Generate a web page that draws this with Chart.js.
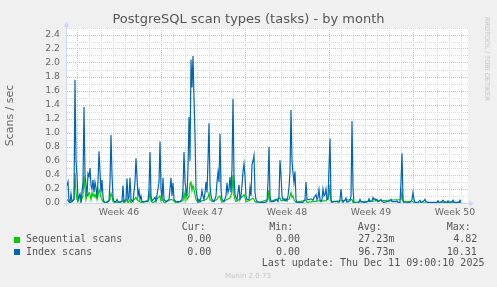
<!DOCTYPE html>
<html>
<head>
<meta charset="utf-8">
<script src="https://cdn.jsdelivr.net/npm/chart.js@4.4.1/dist/chart.umd.min.js"></script>
<style>
html,body{margin:0;padding:0;background:#f0f0f0;width:497px;height:287px;overflow:hidden;}
#wrap{position:relative;width:497px;height:287px;}
#c{position:absolute;left:0;top:0;}
.t{position:absolute;white-space:pre;line-height:12px;}
.mono{font-family:'DejaVu Sans Mono',monospace;font-size:10px;color:#555;}
.sq{position:absolute;width:6px;height:6px;}
</style>
</head>
<body>
<div id="wrap">
<canvas id="c" width="497" height="287"></canvas>
<div class="t" style="left:248.5px;top:11px;line-height:16px;transform:translateX(-50%);font-family:'DejaVu Sans';font-size:13px;color:#555;">PostgreSQL scan types (tasks) - by month</div>
<div class="t" style="left:487px;top:58.5px;line-height:8px;transform:translate(-50%,-50%) rotate(90deg);font-family:'DejaVu Sans';font-size:6.5px;color:#c4c4c4;">RRDTOOL / TOBI OETIKER</div>
<div class="t mono" style="left:181.7px;top:221px;">Cur:</div>
<div class="t mono" style="left:269.3px;top:221px;">Min:</div>
<div class="t mono" style="left:357.7px;top:221px;">Avg:</div>
<div class="t mono" style="left:446.7px;top:221px;">Max:</div>
<div class="sq" style="left:14px;top:237px;background:#00cc00;"></div>
<div class="t mono" style="left:26px;top:233.3px;">Sequential scans</div>
<div class="t mono" style="left:187.3px;top:233.3px;">0.00</div>
<div class="t mono" style="left:276px;top:233.3px;">0.00</div>
<div class="t mono" style="left:358.3px;top:233.3px;">27.23m</div>
<div class="t mono" style="left:453.3px;top:233.3px;">4.82</div>
<div class="sq" style="left:14px;top:249.3px;background:#0066b3;"></div>
<div class="t mono" style="left:26px;top:245.7px;">Index scans</div>
<div class="t mono" style="left:187.3px;top:245.7px;">0.00</div>
<div class="t mono" style="left:276px;top:245.7px;">0.00</div>
<div class="t mono" style="left:358.3px;top:245.7px;">96.73m</div>
<div class="t mono" style="left:446.7px;top:245.7px;">10.31</div>
<div class="t mono" style="left:261.7px;top:257.3px;">Last update: Thu Dec 11 09:00:10 2025</div>
<div class="t" style="left:248px;top:270px;transform:translateX(-50%);font-family:'DejaVu Sans';font-size:7px;color:#c8c8c8;">Munin 2.0.73</div>
</div>
<script>
// time in hours from Mon Nov 10 00:00
const idxHours = [-20,-18,-16,-14,-12,-10,-6,-4,-2,0,2,6,8,12,14,16,18,20,22,24,26,28,30,32,34,36,38,40,42,44,46,48,50,52,54,58,64,66,68,70,72,74,78,80,82,86,90,92,94,98,100,102,104,106,108,112,116,118,120,122,124,126,128,130,142,144,146,148,150,156,158,164,166,168,170,172,174,178,184,186,188,190,192,194,198,206,210,212,214,216,218,220,222,224,226,228,230,232,234,236,238,240,242,244,246,248,250,252,254,256,258,260,262,264,266,268,270,274,278,280,282,284,286,288,290,294,298,300,302,304,306,308,310,312,314,316,318,320,322,324,326,328,330,332,334,336,338,340,344,346,348,350,352,354,356,358,360,366,376,380,382,384,386,388,392,396,398,400,402,404,406,408,410,412,414,416,418,420,422,424,426,428,430,432,434,436,438,440,452,456,458,460,464,468,472,474,476,478,480,482,484,486,488,490,492,494,496,498,500,502,504,506,508,510,514,520,524,526,528,530,532,536,538,540,546,548,550,552,554,562,564,566,568,574,582,584,586,590,592,594,596,598,600,602,606,608,610,614,620,626,628,630,634,638,640,642,646,648,650,652,654,666,670,672,674,676,682,686,688,694,696,698,702,720,722,724,730,732,734,740,742,744,750,752,754,764,766,768];
const idxValues = [0.25,0.3,0.02,0,0.13,0.02,0.05,1.76,0.6,0.4,0.05,0.13,0.02,0.3,1.37,0.4,0.25,0.1,0.42,0.38,0.5,0.25,0.2,0.33,0.15,0.3,0.22,0.08,0.3,0.74,0.45,0.15,0.33,0.08,0.02,0,0.03,0.3,0.97,0.4,0.08,0.02,0.02,0.05,0.02,0.01,0.02,0.25,0.02,0.05,0.35,0.05,0.08,0.36,0.05,0.02,0.3,0.64,0.36,0.1,0.18,0.05,0.1,0.02,0.02,0.2,0.73,0.1,0.03,0.08,0.02,0.3,0.88,0.2,0.05,0.36,0.05,0.02,0.05,0.2,0.36,0.1,0.29,0.05,0.02,0.02,0.05,0.2,0.73,0.3,0.2,0.1,0.5,1.23,0.6,2.05,1.65,2.1,1.5,0.97,0.2,0.1,0.02,0.05,0.02,0.08,0.18,0.1,0.05,0.15,0.3,0.15,0.6,1.14,0.26,0.1,0.05,0.02,0.1,0.3,0.44,0.3,0.99,0.2,0.05,0.02,0.1,0.29,0.15,0.2,0.37,0.15,0.5,1.49,0.4,0.12,0.08,0.05,0.15,0.26,0.05,0.1,0.25,0.45,0.56,0.38,0.1,0.05,0.05,0.22,0.1,0.55,0.6,0.68,0.15,0.05,0.02,0.01,0.01,0.02,0.3,0.8,0.1,0.02,0.02,0.03,0.05,0.04,0.02,0.1,0.61,0.4,0.1,0.05,0.06,0.03,0.06,0.03,0.1,0.23,0.45,1.33,0.6,0.43,0.3,0.45,0.05,0.01,0.01,0.05,0.3,0.05,0.05,0.06,0.04,0.08,0.09,0.12,0.05,0.08,0.19,0.05,0.02,0.05,0.2,0.1,0.12,0.2,0.05,0.05,0.5,0.92,0.05,0.01,0.02,0.02,0.01,0.05,0.2,0.05,0.01,0.04,0.07,0.01,0.03,0.1,1.17,0.2,0,0,0.02,0.05,0.02,0.01,0.02,0.06,0.02,0.03,0.08,0.05,0.06,0.04,0.05,0.02,0.04,0.05,0.02,0.01,0.02,0.03,0.05,0.02,0.02,0.02,0.03,0.01,0.01,0.3,0.71,0.05,0,0.01,0.05,0.15,0.05,0.01,0.01,0.04,0.01,0.03,0.05,0.02,0.01,0.01,0.03,0.01,0.02,0.04,0.02,0.01,0.03,0.01,0.02,0.04,0.01,0.01,0.04,0.02];
const seqHours = [-20,-14,-6,-4,-2,0,2,6,8,12,14,16,18,20,22,24,26,28,30,32,34,36,38,40,42,44,46,48,50,52,56,66,68,70,72,78,92,94,100,102,106,108,118,120,124,130,144,146,148,152,166,168,172,174,188,192,198,212,214,216,218,220,224,226,228,230,232,234,236,238,242,250,258,262,264,266,270,280,282,286,288,290,300,306,310,312,314,316,318,324,332,334,336,338,346,350,352,354,356,360,382,384,386,406,408,424,426,428,430,432,434,438,458,460,484,492,498,504,506,508,528,550,552,648,650,652,672,674,768];
const seqValues = [0.05,0,0.05,0.43,0.15,0.05,0.02,0.1,0.02,0.1,0.38,0.2,0.05,0.12,0.1,0.15,0.12,0.05,0.15,0.1,0.13,0.08,0.12,0.05,0.1,0.19,0.15,0.08,0.05,0.02,0,0.05,0.14,0.1,0.02,0,0.03,0,0.05,0,0.05,0,0.08,0.05,0.03,0,0.05,0.17,0.03,0,0.1,0.03,0.05,0,0.05,0.04,0,0.03,0.15,0.05,0.2,0.05,0.1,0.28,0.3,0.18,0.25,0.2,0.12,0.05,0.01,0.03,0.05,0.08,0.14,0.05,0.02,0.05,0.08,0.1,0.04,0.01,0.05,0.07,0.15,0.4,0.12,0.05,0.02,0.05,0.1,0.12,0.08,0.02,0.04,0.06,0.07,0.05,0.02,0,0.05,0.19,0.02,0.07,0.03,0.05,0.1,0.15,0.08,0.1,0.05,0.01,0.04,0.01,0.03,0.03,0.03,0.1,0.26,0.02,0.03,0.05,0.01,0.05,0.16,0.02,0.02,0,0.01];
const weekLabels = ['Week 46','Week 47','Week 48','Week 49','Week 50'];
const weekMidHours = [84,252,420,588,756];
const yTicks = [0,0.1,0.2,0.3,0.4,0.5,0.6,0.7,0.8,0.9,1.0,1.1,1.2,1.3,1.4,1.5,1.6,1.7,1.8,1.9,2.0,2.1,2.2,2.3,2.4,2.5];
const xTicks = [];
for (let h = 0; h <= 768; h += 12) xTicks.push(h);

const MINOR = '#dadada', MAJOR = '#efb4b4', AXIS = '#CFD6F8';

const muninPlugin = {
  id: 'munin',
  beforeDraw(chart) {
    const {ctx, chartArea: a} = chart;
    ctx.save();
    ctx.fillStyle = '#ffffff';
    ctx.fillRect(a.left, a.top, a.right - a.left, a.bottom - a.top);
    ctx.restore();
  },
  beforeDatasetsDraw(chart) {
    const {ctx, chartArea: a} = chart;
    ctx.save();
    ctx.strokeStyle = AXIS; ctx.fillStyle = AXIS; ctx.lineWidth = 1;
    ctx.beginPath();
    ctx.moveTo(a.left - 3, a.bottom + 0.5); ctx.lineTo(a.right + 2, a.bottom + 0.5);
    ctx.moveTo(a.left - 0.5, a.bottom + 3); ctx.lineTo(a.left - 0.5, a.top - 2);
    ctx.stroke();
    ctx.beginPath();
    ctx.moveTo(a.right + 1, a.bottom - 2.5); ctx.lineTo(a.right + 6, a.bottom + 0.5); ctx.lineTo(a.right + 1, a.bottom + 3.5); ctx.closePath();
    ctx.fill();
    ctx.beginPath();
    ctx.moveTo(a.left - 3.5, a.top - 1); ctx.lineTo(a.left - 0.5, a.top - 6); ctx.lineTo(a.left + 2.5, a.top - 1); ctx.closePath();
    ctx.fill();
    ctx.restore();
  }
};

new Chart(document.getElementById('c'), {
  type: 'line',
  data: {
    datasets: [
      { label: 'Index scans', data: idxHours.map((h, i) => ({x: h, y: idxValues[i]})), borderColor: '#0066b3', borderWidth: 1.2, pointRadius: 0, tension: 0, fill: false, order: 0 },
      { label: 'Sequential scans', data: seqHours.map((h, i) => ({x: h, y: seqValues[i]})), borderColor: '#00cc00', borderWidth: 1.2, pointRadius: 0, tension: 0, fill: false, order: 1 }
    ]
  },
  options: {
    responsive: false,
    animation: false,
    devicePixelRatio: 1,
    layout: { padding: { left: 0, right: 29, top: 28, bottom: 0 } },
    plugins: { legend: { display: false }, tooltip: { enabled: false }, title: { display: false } },
    scales: {
      x: {
        type: 'linear', min: -20, max: 782,
        afterBuildTicks: s => { s.ticks = xTicks.map(v => ({value: v})); },
        afterFit: s => { s.height = 84; },
        border: { display: false, dash: [1, 1] },
        grid: {
          drawTicks: false,
          lineWidth: 1,
          color: ctx => {
            const v = ctx.tick ? ctx.tick.value : 0;
            if (v % 168 === 0) return MAJOR;
            if (v % 24 === 0) return MINOR;
            return 'rgba(0,0,0,0)';
          }
        },
        ticks: {
          autoSkip: false, maxRotation: 0, minRotation: 0, padding: 4,
          color: '#666', font: { family: 'DejaVu Sans', size: 9.3 },
          callback: v => { const k = weekMidHours.indexOf(v); return k >= 0 ? weekLabels[k] : ''; }
        }
      },
      y: {
        type: 'linear', min: 0, max: 2.5,
        afterBuildTicks: s => { s.ticks = yTicks.map(v => ({value: v})); },
        afterFit: s => { s.width = 67; },
        border: { display: false, dash: [1, 1] },
        grid: {
          drawTicks: false,
          lineWidth: 1,
          color: ctx => {
            const v = ctx.tick ? ctx.tick.value : 0;
            return Math.round(v * 10) % 2 === 0 ? MAJOR : MINOR;
          }
        },
        ticks: {
          autoSkip: false, padding: 7,
          color: '#666', font: { family: 'DejaVu Sans', size: 9.3 },
          callback: v => Math.round(v * 10) % 2 === 0 ? v.toFixed(1) : ''
        },
        title: { display: true, text: 'Scans / sec', color: '#666', font: { family: 'DejaVu Sans', size: 11 }, padding: { top: 4, bottom: 0 } }
      }
    }
  },
  plugins: [muninPlugin]
});
</script>
</body>
</html>
